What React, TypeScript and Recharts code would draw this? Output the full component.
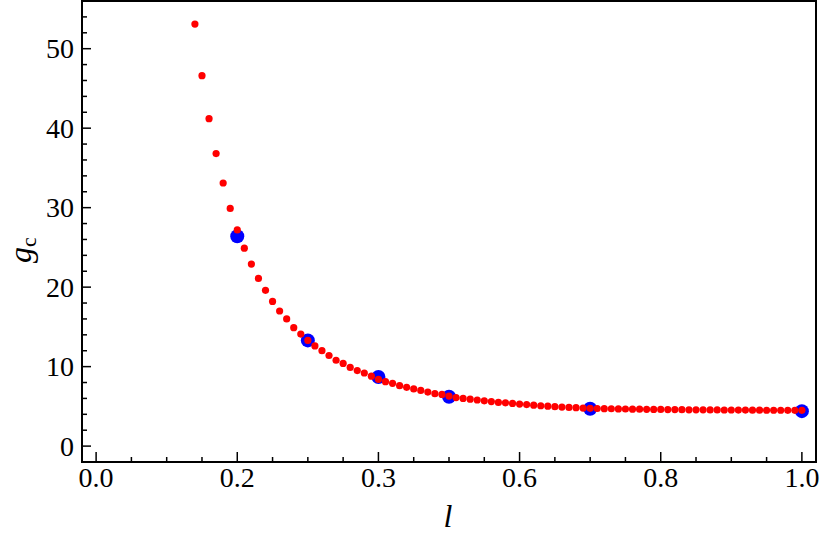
import React from 'react';
import { ScatterChart, Scatter, XAxis, YAxis, ReferenceArea } from 'recharts';

// red: dense curve, blue: sparse points
const redL = [
  0.14, 0.15, 0.16, 0.17, 0.18, 0.19, 0.2, 0.21, 0.22, 0.23, 0.24, 0.25, 0.26, 0.27, 0.28, 0.29,
  0.3, 0.31, 0.32, 0.33, 0.34, 0.35, 0.36, 0.37, 0.38, 0.39, 0.4, 0.41, 0.42, 0.43, 0.44, 0.45,
  0.46, 0.47, 0.48, 0.49, 0.5, 0.51, 0.52, 0.53, 0.54, 0.55, 0.56, 0.57, 0.58, 0.59, 0.6, 0.61,
  0.62, 0.63, 0.64, 0.65, 0.66, 0.67, 0.68, 0.69, 0.7, 0.71, 0.72, 0.73, 0.74, 0.75, 0.76, 0.77,
  0.78, 0.79, 0.8, 0.81, 0.82, 0.83, 0.84, 0.85, 0.86, 0.87, 0.88, 0.89, 0.9, 0.91, 0.92, 0.93,
  0.94, 0.95, 0.96, 0.97, 0.98, 0.99, 1.0,
];
const redG = [
  53.1, 46.6, 41.2, 36.8, 33.1, 29.9, 27.2, 24.9, 22.9, 21.1, 19.6, 18.2, 17.0, 16.0, 14.9, 14.1,
  13.3, 12.6, 12.0, 11.4, 10.8, 10.4, 9.9, 9.5, 9.2, 8.8, 8.4, 8.1, 7.9, 7.6, 7.4, 7.2,
  7.0, 6.8, 6.6, 6.5, 6.3, 6.1, 6.0, 5.9, 5.8, 5.7, 5.6, 5.5, 5.45, 5.37, 5.29, 5.22,
  5.15, 5.08, 5.02, 4.96, 4.91, 4.87, 4.83, 4.79, 4.75, 4.73, 4.71, 4.7, 4.68, 4.67, 4.65, 4.64,
  4.63, 4.62, 4.61, 4.6, 4.59, 4.58, 4.57, 4.57, 4.56, 4.55, 4.55, 4.54, 4.54, 4.53, 4.53, 4.52,
  4.52, 4.51, 4.51, 4.51, 4.5, 4.5, 4.5,
];
const blueL = [0.2, 0.3, 0.4, 0.5, 0.7, 1.0];
const blueG = [26.4, 13.3, 8.7, 6.2, 4.7, 4.4];

const xMajor = [0, 0.2, 0.4, 0.6, 0.8, 1.0];
const xLabels = ['0.0', '0.2', '0.3', '0.6', '0.8', '1.0'];
const xTicks = [
  0, 0.05, 0.1, 0.15, 0.2, 0.25, 0.3, 0.35, 0.4, 0.45, 0.5, 0.55, 0.6, 0.65, 0.7, 0.75, 0.8,
  0.85, 0.9, 0.95, 1.0,
];
const yMajor = [0, 10, 20, 30, 40, 50];
const yTicks = [
  0, 2, 4, 6, 8, 10, 12, 14, 16, 18, 20, 22, 24, 26, 28, 30, 32, 34, 36, 38, 40, 42, 44, 46,
  48, 50, 52, 54,
];

const redData = redL.map((l, i) => ({ l, g: redG[i] }));
const blueData = blueL.map((l, i) => ({ l, g: blueG[i] }));

const FONT = '"Liberation Serif", serif';
const X_MARGIN = 4;
const Y_MARGIN = 8;

const XTick = (props: any) => {
  const { x, y, payload } = props;
  const idx = xMajor.findIndex((m) => Math.abs(m - payload.value) < 1e-6);
  const axisY = y - X_MARGIN;
  const len = idx >= 0 ? 10 : 5;
  return (
    <g>
      <line x1={x} x2={x} y1={axisY} y2={axisY - len} stroke="#000" strokeWidth={1.5} />
      {idx >= 0 && (
        <text x={x} y={y} dy="0.74em" textAnchor="middle" fontFamily={FONT} fontSize={28} fill="#000">
          {xLabels[idx]}
        </text>
      )}
    </g>
  );
};

const YTick = (props: any) => {
  const { x, y, payload } = props;
  const major = yMajor.includes(payload.value);
  const axisX = x + Y_MARGIN;
  const len = major ? 9 : 5;
  return (
    <g>
      <line x1={axisX} x2={axisX + len} y1={y} y2={y} stroke="#000" strokeWidth={1.5} />
      {major && (
        <text x={x} y={y} dy="0.34em" textAnchor="end" fontFamily={FONT} fontSize={28} fill="#000">
          {payload.value}
        </text>
      )}
    </g>
  );
};

const dot = (r: number, fill: string) => (p: any) => <circle cx={p.cx} cy={p.cy} r={r} fill={fill} />;

export default function App() {
  return (
    <div style={{ position: 'absolute', left: 0, top: 0, background: '#fff' }}>
      <ScatterChart width={826} height={538} margin={{ top: 1, right: 10, bottom: 75, left: 81 }}>
        <XAxis
          dataKey="l"
          type="number"
          domain={[-0.02, 1.02]}
          ticks={xTicks}
          interval={0}
          height={1}
          axisLine={false}
          tickLine={false}
          tickSize={0}
          tickMargin={X_MARGIN}
          tick={<XTick />}
          allowDataOverflow
        />
        <YAxis
          dataKey="g"
          type="number"
          domain={[-2, 56]}
          ticks={yTicks}
          interval={0}
          width={1}
          axisLine={false}
          tickLine={false}
          tickSize={0}
          tickMargin={Y_MARGIN}
          tick={<YTick />}
          allowDataOverflow
        />
        <ReferenceArea x1={-0.02} x2={1.02} y1={-2} y2={56} fill="none" stroke="#000" strokeWidth={2} />
        <Scatter data={blueData} shape={dot(7, '#0000ff')} isAnimationActive={false} />
        <Scatter data={redData} shape={dot(3.6, '#ff0000')} isAnimationActive={false} />
        <text x={448} y={527} textAnchor="middle" fontFamily={FONT} fontStyle="italic" fontSize={32} fill="#000">
          l
        </text>
        <text
          x={31}
          y={250}
          transform="rotate(-90 31 250)"
          textAnchor="middle"
          fontFamily={FONT}
          fontSize={32}
          fill="#000"
        >
          <tspan fontStyle="italic">g</tspan>
          <tspan fontSize={22} dy={5}>c</tspan>
        </text>
      </ScatterChart>
    </div>
  );
}
